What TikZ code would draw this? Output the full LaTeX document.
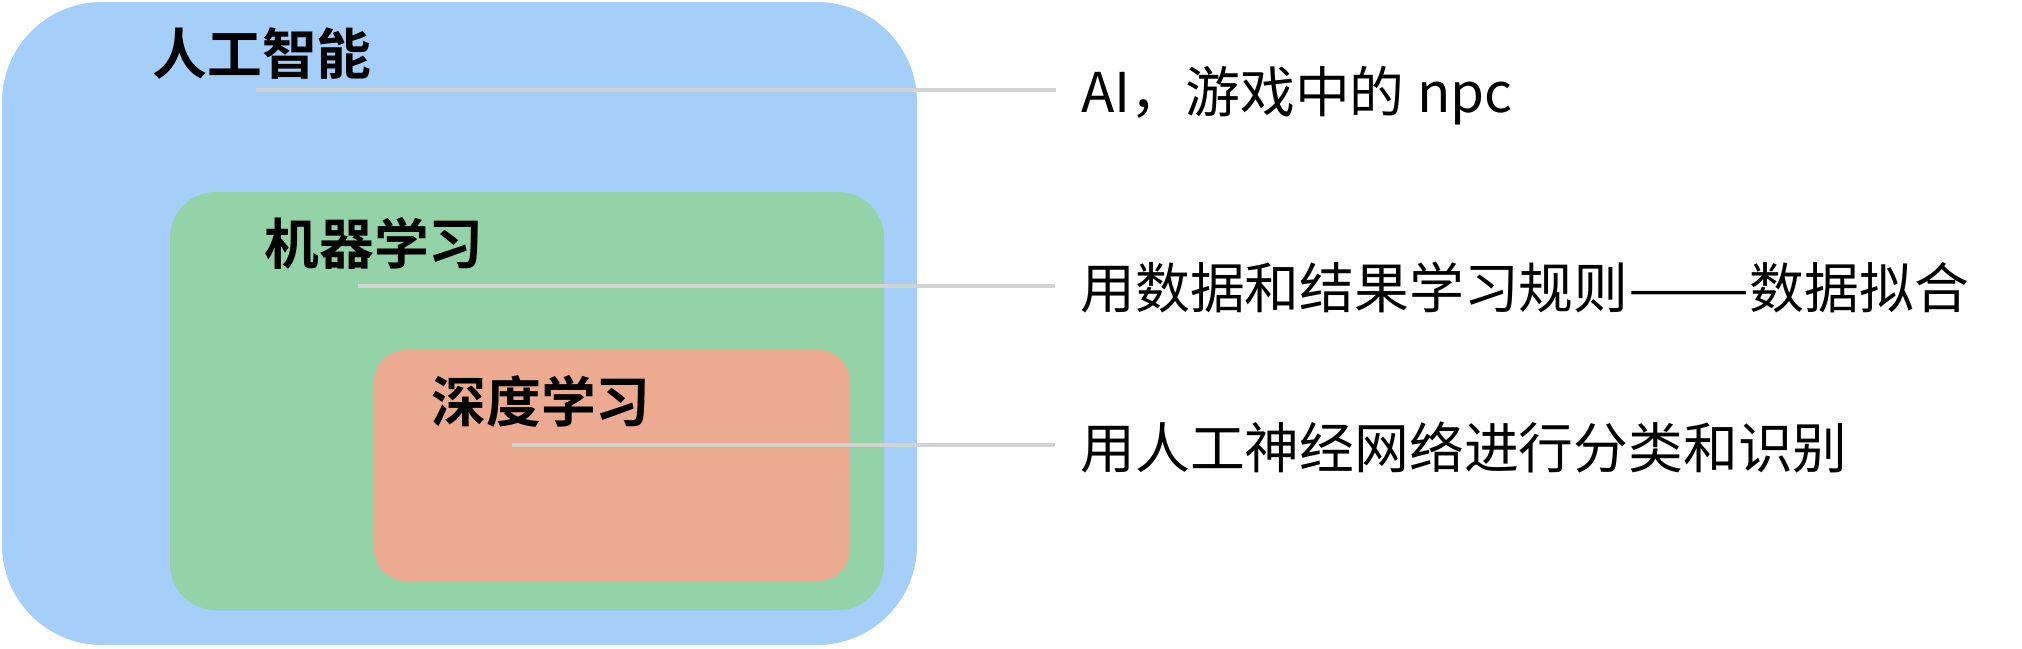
\documentclass[tikz,border=0pt]{standalone}
\usepackage{fontspec}
\usepackage{xcolor}
\usepackage{tikz}
\usetikzlibrary{positioning,calc}
\newfontfamily\cjk{Noto Sans CJK SC}[BoldFont={Noto Sans CJK SC Bold}]
\definecolor{aiblue}{RGB}{165,206,248}
\definecolor{mlgreen}{RGB}{148,210,167}
\definecolor{dlsalmon}{RGB}{236,170,144}
\definecolor{leadgray}{RGB}{211,211,211}
\newcommand{\longdash}{\scalebox{1.32}[1]{——}}
\tikzset{
  ai_box/.style = {fill=aiblue, rounded corners=50pt},% outer area
  ml_box/.style = {fill=mlgreen, rounded corners=23pt},% middle area
  dl_box/.style = {fill=dlsalmon, rounded corners=16pt},% inner area
  title/.style = {anchor=base west, inner sep=0pt,
    font=\cjk\bfseries\fontsize{27.4}{30}\selectfont},
  note/.style = {anchor=base west, inner sep=0pt,
    font=\cjk\fontsize{27.4}{30}\selectfont},
  leader/.style = {draw=leadgray, line width=1.6pt}
}

\begin{document}
\begin{tikzpicture}[x=0.5pt, y=-0.5pt]
\useasboundingbox (0,0) rectangle (2022,648);
\fill[ai_box] (2,2) rectangle (917,645);
\fill[ml_box] (170,192) rectangle (884,610);
\fill[dl_box] (374,350) rectangle (850,581);

\node[title] (ai) at (152,74) {人工智能};
\node[title] (ml) at (264,264) {机器学习};
\node[title] (dl) at (431,422) {深度学习};

\coordinate (ai_in) at (256,90);
\coordinate (ml_in) at (358,286);
\coordinate (dl_in) at (512,445);

\node[note] (ai_txt) at (1081,112) {AI，游戏中的 npc};
\node[note] (ml_txt) at (1080,308) {用数据和结果学习规则\longdash 数据拟合};
\node[note] (dl_txt) at (1080,468) {用人工神经网络进行分类和识别};

\draw[leader] (ai_in) -- ([xshift=-12.5pt]ai_in -| ai_txt.west);
\draw[leader] (ml_in) -- ([xshift=-12.5pt]ml_in -| ml_txt.west);
\draw[leader] (dl_in) -- ([xshift=-12.5pt]dl_in -| dl_txt.west);
\end{tikzpicture}
\end{document}
